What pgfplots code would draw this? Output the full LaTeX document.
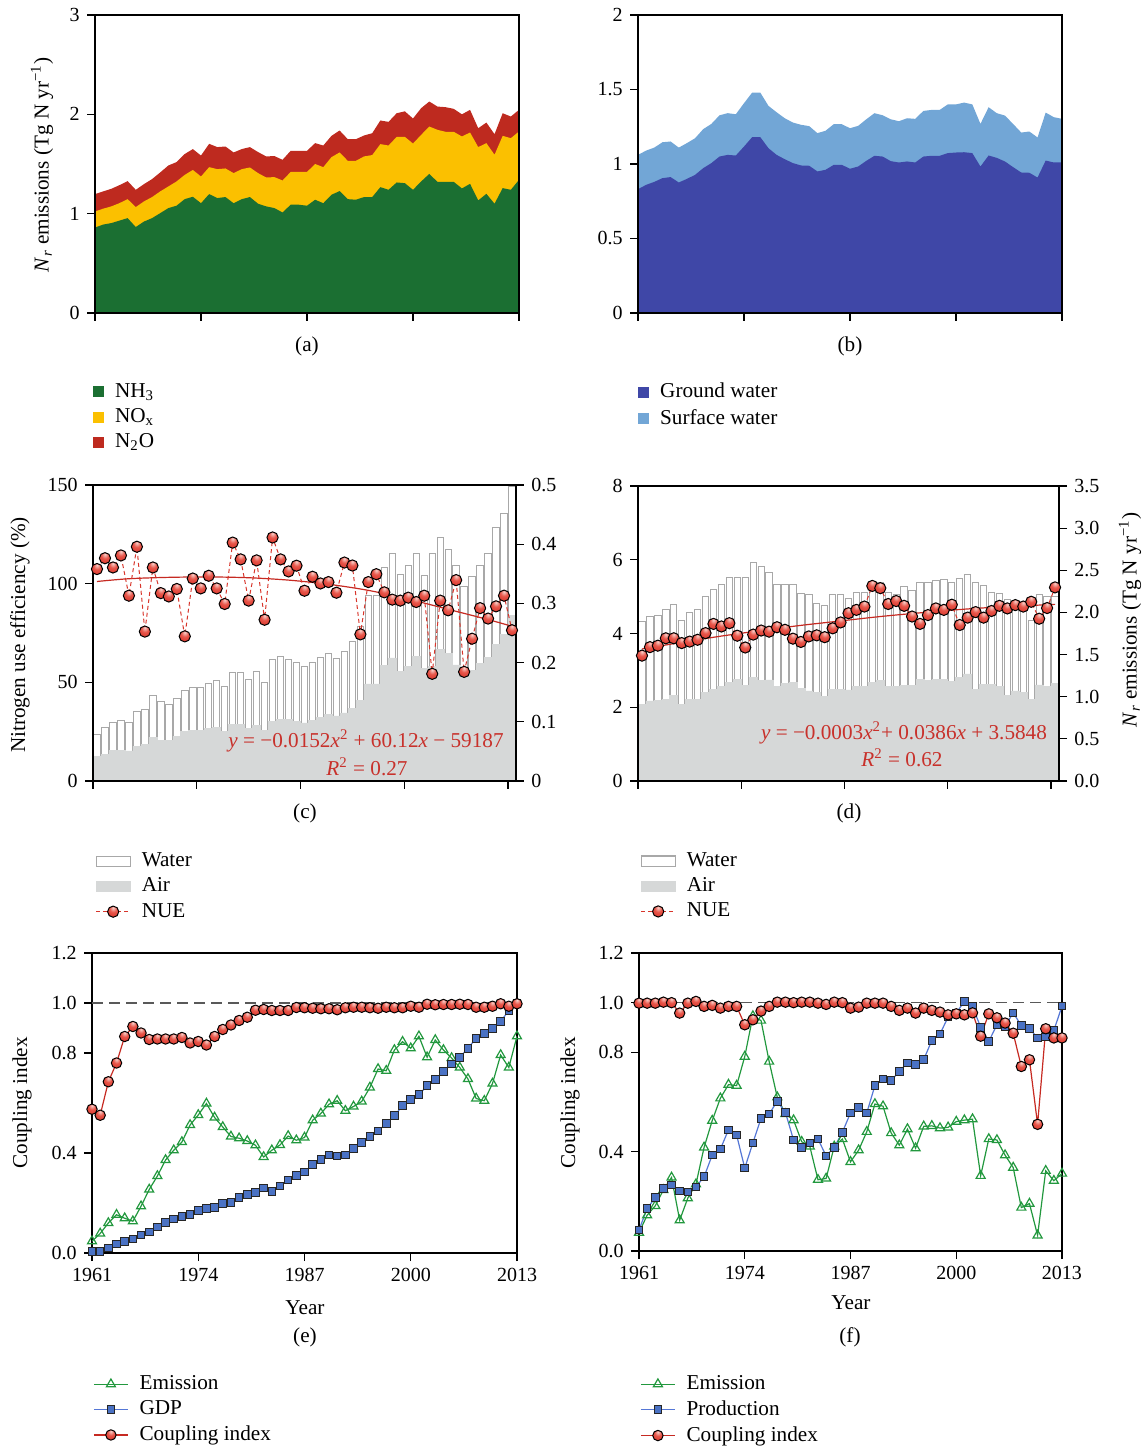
\documentclass[border=0pt]{standalone}
\usepackage{fontspec}
\setmainfont{Liberation Serif}
\usepackage{pgfplots}
\usepackage{pgfplotstable}
\pgfplotsset{compat=1.18}

\definecolor{nhgreen}{HTML}{1B6F32}
\definecolor{noxyel}{HTML}{FBC000}
\definecolor{ntored}{HTML}{BE2A1F}
\definecolor{gwblue}{HTML}{3F47A7}
\definecolor{swblue}{HTML}{72A6D6}
\definecolor{airgray}{HTML}{D6D8D8}
\definecolor{bargray}{HTML}{A8A8A8}
\definecolor{nuered}{HTML}{D8352B}
\definecolor{cired}{HTML}{C62A22}
\definecolor{emgreen}{HTML}{22983E}
\definecolor{gdpblue}{HTML}{4A72C4}
\definecolor{gdpline}{HTML}{5577D6}
\definecolor{eqred}{HTML}{C8312B}
\definecolor{ballhi}{HTML}{F8D2CC}
\definecolor{ballmid}{HTML}{E8564A}
\definecolor{ballred}{HTML}{D22C22}
\definecolor{balldark}{HTML}{9E1A12}

\newcommand\fs{\fontsize{10.6}{12.4}\selectfont}
\newcommand\ft{\fontsize{10}{12}\selectfont}

% red ball with highlight on top and a dark outline
\pgfdeclareradialshading{nueball}{\pgfpoint{0bp}{18bp}}{%
  color(0bp)=(ballhi); color(16bp)=(ballmid); color(42bp)=(ballred); color(70bp)=(balldark)}
\pgfdeclareplotmark{rball}{%
  \pgfpathcircle{\pgfpointorigin}{\pgfplotmarksize}%
  \pgfshadepath{nueball}{0}%
  \pgfusepath{stroke}}

\pgfplotsset{
  panel/.style={
    scale only axis, anchor=south west, enlargelimits=false,
    tick align=outside, major tick length=4pt,
    axis line style={line width=0.6pt},
    tick style={black, line width=0.6pt},
    tick label style={font=\ft},
    /pgf/number format/assume math mode=true,
    /pgf/number format/1000 sep={},
    xtick pos=left, ytick pos=left,
    legend cell align=left,
    legend style={draw=none, fill=none, inner sep=0pt, font=\fs,
      row sep=0pt, anchor=north west,
      /tikz/every odd column/.append style={column sep=3.5pt}},
  },
  yrs/.style={xmin=1961, xmax=2013, xtick={1961,1974,1987,2000,2013}},
  yrsbar/.style={xmin=1960.5, xmax=2013.5, xtick={1960.5,1973.5,1986.5,1999.5,2012.5}},
  sq/.style={legend image code/.code={\fill[#1] (1pt,-2.5pt) rectangle (6pt,2.5pt);}},
  waterleg/.style={legend image code/.code={\draw[fill=white,draw=bargray,line width=0.6pt] (0pt,-2.6pt) rectangle (17pt,2.6pt);}},
  airleg/.style={legend image code/.code={\fill[airgray] (0pt,-2.6pt) rectangle (17pt,2.6pt);}},
}

% (a) emissions to air, cumulative tops of the stacked areas
\pgfplotstableread{
year nh3 noxtop n2otop
1961 0.86 1.022 1.197
1962 0.89 1.05 1.224
1963 0.905 1.073 1.25
1964 0.93 1.106 1.287
1965 0.955 1.146 1.328
1966 0.865 1.066 1.24
1967 0.92 1.123 1.297
1968 0.955 1.167 1.348
1969 1.005 1.224 1.415
1970 1.056 1.274 1.485
1971 1.08 1.324 1.519
1972 1.146 1.39 1.60
1973 1.17 1.44 1.65
1974 1.105 1.374 1.585
1975 1.197 1.468 1.703
1976 1.157 1.448 1.67
1977 1.167 1.455 1.676
1978 1.105 1.408 1.616
1979 1.146 1.448 1.65
1980 1.167 1.465 1.67
1981 1.10 1.408 1.62
1982 1.073 1.364 1.576
1983 1.056 1.368 1.58
1984 1.012 1.334 1.542
1985 1.09 1.42 1.633
1986 1.09 1.42 1.633
1987 1.08 1.42 1.633
1988 1.14 1.50 1.71
1989 1.105 1.468 1.686
1990 1.19 1.569 1.783
1991 1.227 1.616 1.837
1992 1.146 1.532 1.75
1993 1.14 1.532 1.75
1994 1.167 1.576 1.787
1995 1.167 1.59 1.81
1996 1.267 1.70 1.938
1997 1.24 1.686 1.924
1998 1.314 1.773 2.011
1999 1.307 1.773 2.03
2000 1.24 1.706 1.958
2001 1.324 1.793 2.062
2002 1.40 1.877 2.129
2003 1.32 1.844 2.078
2004 1.32 1.824 2.072
2005 1.32 1.824 2.055
2006 1.254 1.777 2.00
2007 1.30 1.817 2.045
2008 1.133 1.67 1.86
2009 1.20 1.71 1.917
2010 1.10 1.593 1.80
2011 1.257 1.783 2.011
2012 1.24 1.76 1.978
2013 1.34 1.827 2.045
}\dataA

% (b) ground water and cumulative top with surface water
\pgfplotstableread{
year ground total
1961 0.831 1.061
1962 0.86 1.09
1963 0.88 1.11
1964 0.905 1.146
1965 0.912 1.151
1966 0.876 1.11
1967 0.90 1.14
1968 0.927 1.173
1969 0.972 1.234
1970 1.006 1.269
1971 1.05 1.327
1972 1.061 1.341
1973 1.057 1.334
1974 1.117 1.408
1975 1.18 1.479
1976 1.18 1.479
1977 1.106 1.39
1978 1.061 1.347
1979 1.032 1.307
1980 1.006 1.278
1981 0.99 1.263
1982 0.988 1.254
1983 0.95 1.207
1984 0.961 1.223
1985 0.994 1.267
1986 0.994 1.267
1987 0.968 1.24
1988 0.983 1.256
1989 1.021 1.30
1990 1.055 1.341
1991 1.05 1.327
1992 1.019 1.30
1993 1.01 1.287
1994 1.017 1.307
1995 1.01 1.303
1996 1.05 1.356
1997 1.055 1.363
1998 1.055 1.363
1999 1.073 1.40
2000 1.077 1.40
2001 1.079 1.412
2002 1.073 1.40
2003 0.983 1.269
2004 1.057 1.381
2005 1.041 1.341
2006 1.017 1.325
2007 0.979 1.269
2008 0.943 1.211
2009 0.941 1.218
2010 0.909 1.178
2011 1.023 1.345
2012 1.01 1.314
2013 1.01 1.303
}\dataB

% (c) air / water losses (right axis) and NUE (left axis)
\pgfplotstableread{
year air water nue
1961 0.041 0.038 107.4
1962 0.045 0.046 112.9
1963 0.052 0.047 108.2
1964 0.052 0.050 114.3
1965 0.051 0.048 93.9
1966 0.059 0.058 118.7
1967 0.062 0.059 75.7
1968 0.074 0.071 108.2
1969 0.069 0.065 95.2
1970 0.069 0.060 93.5
1971 0.076 0.064 97.3
1972 0.084 0.069 73.3
1973 0.085 0.073 102.6
1974 0.085 0.073 97.6
1975 0.089 0.075 104.0
1976 0.091 0.078 97.6
1977 0.084 0.075 89.7
1978 0.095 0.089 120.8
1979 0.095 0.089 112.3
1980 0.089 0.082 91.4
1981 0.094 0.091 111.8
1982 0.086 0.080 81.7
1983 0.101 0.104 123.4
1984 0.104 0.107 112.3
1985 0.104 0.101 106.2
1986 0.101 0.100 109.1
1987 0.098 0.096 96.4
1988 0.103 0.097 103.5
1989 0.108 0.100 100.1
1990 0.112 0.103 100.8
1991 0.110 0.097 95.4
1992 0.115 0.104 110.7
1993 0.122 0.114 109.2
1994 0.136 0.125 74.3
1995 0.164 0.149 100.8
1996 0.164 0.149 104.8
1997 0.195 0.165 95.6
1998 0.208 0.177 91.9
1999 0.185 0.164 91.4
2000 0.194 0.170 92.9
2001 0.210 0.175 90.7
2002 0.190 0.157 93.9
2003 0.193 0.192 54.3
2004 0.222 0.189 91.4
2005 0.215 0.176 86.5
2006 0.196 0.168 101.8
2007 0.185 0.144 55.3
2008 0.187 0.158 72.1
2009 0.198 0.166 87.6
2010 0.209 0.176 82.3
2011 0.231 0.197 88.5
2012 0.247 0.205 93.9
2013 0.280 0.217 76.4
}\dataC

% (d) same for the second system
\pgfplotstableread{
year air water nue
1961 0.91 0.98 3.40
1962 0.95 1.00 3.63
1963 0.96 1.01 3.67
1964 0.97 1.06 3.87
1965 1.02 1.07 3.87
1966 0.91 1.00 3.74
1967 0.97 1.03 3.78
1968 0.97 1.06 3.83
1969 1.05 1.14 4.01
1970 1.09 1.18 4.26
1971 1.12 1.21 4.19
1972 1.17 1.24 4.28
1973 1.21 1.21 3.94
1974 1.13 1.29 3.62
1975 1.23 1.36 3.97
1976 1.19 1.35 4.08
1977 1.20 1.28 4.05
1978 1.12 1.21 4.17
1979 1.16 1.17 4.10
1980 1.17 1.16 3.86
1981 1.10 1.13 3.77
1982 1.07 1.14 3.92
1983 1.05 1.06 3.95
1984 1.00 1.08 3.90
1985 1.09 1.12 4.14
1986 1.09 1.12 4.30
1987 1.08 1.09 4.55
1988 1.12 1.12 4.64
1989 1.12 1.12 4.73
1990 1.17 1.19 5.29
1991 1.19 1.17 5.23
1992 1.12 1.12 4.80
1993 1.12 1.09 4.88
1994 1.13 1.18 4.75
1995 1.13 1.13 4.46
1996 1.21 1.15 4.26
1997 1.19 1.17 4.50
1998 1.21 1.17 4.68
1999 1.21 1.18 4.64
2000 1.18 1.17 4.78
2001 1.23 1.17 4.23
2002 1.27 1.18 4.43
2003 1.09 1.26 4.58
2004 1.15 1.17 4.43
2005 1.15 1.09 4.61
2006 1.12 1.11 4.75
2007 1.02 1.13 4.68
2008 1.07 1.07 4.77
2009 1.05 1.04 4.73
2010 0.97 0.94 4.86
2011 1.14 1.07 4.40
2012 1.12 1.07 4.69
2013 1.16 1.03 5.25
}\dataD

% (e) coupling index, emission and GDP
\pgfplotstableread{
year emis gdp ci
1961 0.047 0.007 0.575
1962 0.078 0.007 0.551
1963 0.120 0.020 0.685
1964 0.153 0.036 0.760
1965 0.139 0.047 0.866
1966 0.127 0.056 0.906
1967 0.187 0.072 0.880
1968 0.254 0.084 0.854
1969 0.308 0.104 0.856
1970 0.372 0.122 0.856
1971 0.411 0.136 0.856
1972 0.444 0.147 0.862
1973 0.512 0.154 0.840
1974 0.552 0.171 0.846
1975 0.598 0.177 0.832
1976 0.542 0.183 0.866
1977 0.504 0.198 0.894
1978 0.466 0.203 0.912
1979 0.459 0.221 0.930
1980 0.448 0.233 0.943
1981 0.431 0.243 0.971
1982 0.384 0.260 0.974
1983 0.411 0.247 0.970
1984 0.432 0.268 0.970
1985 0.468 0.292 0.970
1986 0.451 0.310 0.982
1987 0.462 0.324 0.981
1988 0.531 0.355 0.979
1989 0.558 0.375 0.977
1990 0.595 0.392 0.977
1991 0.609 0.388 0.973
1992 0.569 0.392 0.981
1993 0.586 0.417 0.983
1994 0.606 0.441 0.983
1995 0.662 0.466 0.981
1996 0.736 0.488 0.979
1997 0.729 0.518 0.983
1998 0.812 0.549 0.981
1999 0.845 0.589 0.981
2000 0.819 0.615 0.987
2001 0.867 0.633 0.983
2002 0.783 0.669 0.995
2003 0.852 0.693 0.993
2004 0.812 0.726 0.994
2005 0.780 0.756 0.994
2006 0.742 0.783 0.995
2007 0.696 0.819 0.994
2008 0.618 0.859 0.983
2009 0.609 0.879 0.983
2010 0.678 0.899 0.987
2011 0.792 0.926 0.997
2012 0.742 0.970 0.987
2013 0.867 1.000 0.997
}\dataE

% (f) coupling index, emission and production
\pgfplotstableread{
year emis prod ci
1961 0.074 0.085 0.998
1962 0.144 0.171 0.998
1963 0.182 0.215 0.998
1964 0.246 0.252 1.002
1965 0.296 0.265 1.000
1966 0.124 0.242 0.958
1967 0.213 0.238 0.998
1968 0.269 0.258 1.005
1969 0.417 0.299 0.985
1970 0.525 0.386 0.989
1971 0.615 0.410 0.978
1972 0.670 0.488 0.985
1973 0.666 0.467 0.985
1974 0.783 0.334 0.911
1975 0.946 0.435 0.931
1976 0.928 0.534 0.966
1977 0.763 0.552 0.985
1978 0.619 0.603 1.002
1979 0.552 0.558 1.002
1980 0.527 0.447 1.000
1981 0.440 0.417 1.002
1982 0.421 0.435 1.002
1983 0.287 0.451 0.998
1984 0.292 0.383 0.993
1985 0.421 0.417 1.002
1986 0.451 0.478 1.000
1987 0.359 0.556 0.978
1988 0.406 0.578 0.982
1989 0.480 0.556 0.998
1990 0.592 0.666 0.998
1991 0.583 0.693 0.998
1992 0.475 0.686 0.985
1993 0.426 0.724 0.969
1994 0.491 0.757 0.978
1995 0.414 0.751 0.958
1996 0.502 0.771 0.978
1997 0.504 0.848 0.969
1998 0.495 0.874 0.962
1999 0.498 0.942 0.951
2000 0.521 0.959 0.955
2001 0.527 1.005 0.951
2002 0.531 0.985 0.959
2003 0.303 0.901 0.865
2004 0.451 0.844 0.955
2005 0.447 0.911 0.939
2006 0.386 0.905 0.918
2007 0.336 0.959 0.877
2008 0.175 0.908 0.743
2009 0.191 0.897 0.770
2010 0.063 0.857 0.510
2011 0.323 0.861 0.895
2012 0.283 0.888 0.858
2013 0.312 0.986 0.858
}\dataF

\begin{document}
\fs
\begin{tikzpicture}
\useasboundingbox (0,0) rectangle (572.5pt,723pt);

% ---------- (a)
\begin{axis}[panel, yrs, at={(47.5pt,566.5pt)}, width=212pt, height=149pt,
  ymin=0, ymax=3, ytick={0,1,2,3}, xticklabels={}, axis on top,
  legend style={at={(-0.005,-0.221)}}]
\addlegendimage{sq=nhgreen}\addlegendentry{NH\textsubscript{3}}
\addlegendimage{sq=noxyel}\addlegendentry{NO\textsubscript{x}}
\addlegendimage{sq=ntored}\addlegendentry{N\textsubscript{2}O}
\addplot[fill=ntored, draw=none, forget plot] table[x=year,y=n2otop]{\dataA} \closedcycle;
\addplot[fill=noxyel, draw=none, forget plot] table[x=year,y=noxtop]{\dataA} \closedcycle;
\addplot[fill=nhgreen, draw=none, forget plot] table[x=year,y=nh3]{\dataA} \closedcycle;
\end{axis}

% ---------- (b)
\begin{axis}[panel, yrs, at={(319pt,566.5pt)}, width=212pt, height=149pt,
  ymin=0, ymax=2, ytick={0,0.5,1,1.5,2}, xticklabels={}, axis on top,
  legend style={at={(0,-0.221)}}]
\addlegendimage{sq=gwblue}\addlegendentry{Ground water}
\addlegendimage{sq=swblue}\addlegendentry{Surface water}
\addplot[fill=swblue, draw=none, forget plot] table[x=year,y=total]{\dataB} \closedcycle;
\addplot[fill=gwblue, draw=none, forget plot] table[x=year,y=ground]{\dataB} \closedcycle;
\end{axis}

% ---------- (c) bars on the right axis: water on top of air
\begin{axis}[panel, yrsbar, at={(46.5pt,332.5pt)}, width=211.5pt, height=148pt,
  ymin=0, ymax=0.5, ytick={0,0.1,0.2,0.3,0.4,0.5}, ytick pos=right,
  xtick=\empty, ybar]
\addplot[fill=white, draw=bargray, line width=0.45pt, bar width=0.8, bar shift=0pt]
  table[x=year,y expr=\thisrow{air}+\thisrow{water}]{\dataC};
\addplot[fill=airgray, draw=airgray, line width=0.3pt, bar width=1, bar shift=0pt]
  table[x=year,y=air]{\dataC};
\end{axis}
% (c) NUE on the left axis
\begin{axis}[panel, yrsbar, at={(46.5pt,332.5pt)}, width=211.5pt, height=148pt,
  ymin=0, ymax=150, ytick={0,50,100,150}, xticklabels={},
  legend style={at={(0.005,-0.228)}}]
\addlegendimage{waterleg}\addlegendentry{Water}
\addlegendimage{airleg}\addlegendentry{Air}
\addplot[cired, line width=0.6pt, smooth, forget plot] coordinates {
 (1961,101.1) (1965,102.5) (1970,103.2) (1975,103.4) (1980,103.0) (1985,101.8)
 (1990,99.7) (1995,96.6) (2000,92.2) (2005,87.0) (2010,81.8) (2013,78.4)};
\addplot[nuered, line width=0.5pt, dash pattern=on 2pt off 1.5pt, mark=rball, mark size=2.8pt,
  mark options={solid, draw=black, line width=0.5pt}]
  table[x=year,y=nue]{\dataC};
\addlegendentry{NUE}
\end{axis}

% ---------- (d) bars on the right axis
\begin{axis}[panel, yrsbar, at={(319pt,332.5pt)}, width=210.5pt, height=147.5pt,
  ymin=0, ymax=3.5, ytick={0,0.5,1,1.5,2,2.5,3,3.5}, ytick pos=right,
  yticklabel style={/pgf/number format/.cd, fixed, fixed zerofill, precision=1},
  xtick=\empty, ybar]
\addplot[fill=white, draw=bargray, line width=0.45pt, bar width=0.8, bar shift=0pt]
  table[x=year,y expr=\thisrow{air}+\thisrow{water}]{\dataD};
\addplot[fill=airgray, draw=airgray, line width=0.3pt, bar width=1, bar shift=0pt]
  table[x=year,y=air]{\dataD};
\end{axis}
% (d) NUE on the left axis
\begin{axis}[panel, yrsbar, at={(319pt,332.5pt)}, width=210.5pt, height=147.5pt,
  ymin=0, ymax=8, ytick={0,2,4,6,8}, xticklabels={},
  legend style={at={(0.005,-0.228)}}]
\addlegendimage{waterleg}\addlegendentry{Water}
\addlegendimage{airleg}\addlegendentry{Air}
\addplot[cired, line width=0.6pt, smooth, forget plot] coordinates {
 (1961,3.58) (1966,3.76) (1971,3.93) (1976,4.08) (1981,4.22) (1986,4.34)
 (1991,4.46) (1996,4.56) (2001,4.65) (2006,4.72) (2011,4.77) (2013,4.79)};
\addplot[nuered, line width=0.5pt, dash pattern=on 2pt off 1.5pt, mark=rball, mark size=2.8pt,
  mark options={solid, draw=black, line width=0.5pt}]
  table[x=year,y=nue]{\dataD};
\addlegendentry{NUE}
\end{axis}

% ---------- (e)
\begin{axis}[panel, yrs, at={(46pt,96.5pt)}, width=212.5pt, height=150pt,
  ymin=0, ymax=1.2, ytick={0,0.4,0.8,1,1.2},
  yticklabel style={/pgf/number format/.cd, fixed, fixed zerofill, precision=1},
  legend style={at={(0.002,-0.394)}}]
\addplot[forget plot, black!65, dash pattern=on 5.5pt off 3pt, line width=0.6pt] coordinates {(1961,1) (2013,1)};
\addplot[emgreen, line width=0.6pt, mark=triangle, mark size=2.6pt, mark options={fill=white}]
  table[x=year,y=emis]{\dataE};
\addlegendentry{Emission}
\addplot[gdpline, line width=0.6pt, mark=square*, mark size=1.9pt,
  mark options={fill=gdpblue, draw=black!85, line width=0.5pt}]
  table[x=year,y=gdp]{\dataE};
\addlegendentry{GDP}
\addplot[cired, line width=0.6pt, mark=rball, mark size=2.6pt,
  mark options={draw=black, line width=0.5pt}]
  table[x=year,y=ci]{\dataE};
\addlegendentry{Coupling index}
\end{axis}

% ---------- (f)
\begin{axis}[panel, yrs, at={(319.5pt,97.5pt)}, width=211.5pt, height=149pt,
  ymin=0, ymax=1.2, ytick={0,0.4,0.8,1,1.2},
  yticklabel style={/pgf/number format/.cd, fixed, fixed zerofill, precision=1},
  legend style={at={(0.002,-0.403)}}]
\addplot[forget plot, black!65, dash pattern=on 5.5pt off 3pt, line width=0.6pt] coordinates {(1961,1) (2013,1)};
\addplot[emgreen, line width=0.6pt, mark=triangle, mark size=2.6pt, mark options={fill=white}]
  table[x=year,y=emis]{\dataF};
\addlegendentry{Emission}
\addplot[gdpline, line width=0.6pt, mark=square*, mark size=1.9pt,
  mark options={fill=gdpblue, draw=black!85, line width=0.5pt}]
  table[x=year,y=prod]{\dataF};
\addlegendentry{Production}
\addplot[cired, line width=0.6pt, mark=rball, mark size=2.6pt,
  mark options={draw=black, line width=0.5pt}]
  table[x=year,y=ci]{\dataF};
\addlegendentry{Coupling index}
\end{axis}

% ---------- labels
\node[rotate=90] at (21pt,640.5pt) {\textit{N}\textsubscript{\textit{r}} emissions (Tg N yr\textsuperscript{−1})};
\node at (153.5pt,550pt) {(a)};
\node at (425pt,550pt) {(b)};
\node[rotate=90] at (10pt,405.5pt) {Nitrogen use efficiency (\%)};
\node[rotate=90] at (565pt,413pt) {\textit{N}\textsubscript{\textit{r}} emissions (Tg N yr\textsuperscript{−1})};
\node at (152.5pt,316.5pt) {(c)};
\node at (424.5pt,316.5pt) {(d)};
\node[text=eqred] at (183pt,352.5pt) {\textit{y} = −0.0152\textit{x}\textsuperscript{2} + 60.12\textit{x} − 59187};
\node[text=eqred] at (183.5pt,339.5pt) {\textit{R}\textsuperscript{2} = 0.27};
\node[text=eqred] at (452pt,356.5pt) {\textit{y} = −0.0003\textit{x}\textsuperscript{2}+ 0.0386\textit{x} + 3.5848};
\node[text=eqred] at (451pt,344pt) {\textit{R}\textsuperscript{2} = 0.62};
\node[rotate=90] at (11pt,171.5pt) {Coupling index};
\node[rotate=90] at (285pt,171.5pt) {Coupling index};
\node at (152.5pt,69pt) {Year};
\node at (152.5pt,54.5pt) {(e)};
\node at (425.5pt,71.5pt) {Year};
\node at (425pt,54.5pt) {(f)};
\end{tikzpicture}
\end{document}
